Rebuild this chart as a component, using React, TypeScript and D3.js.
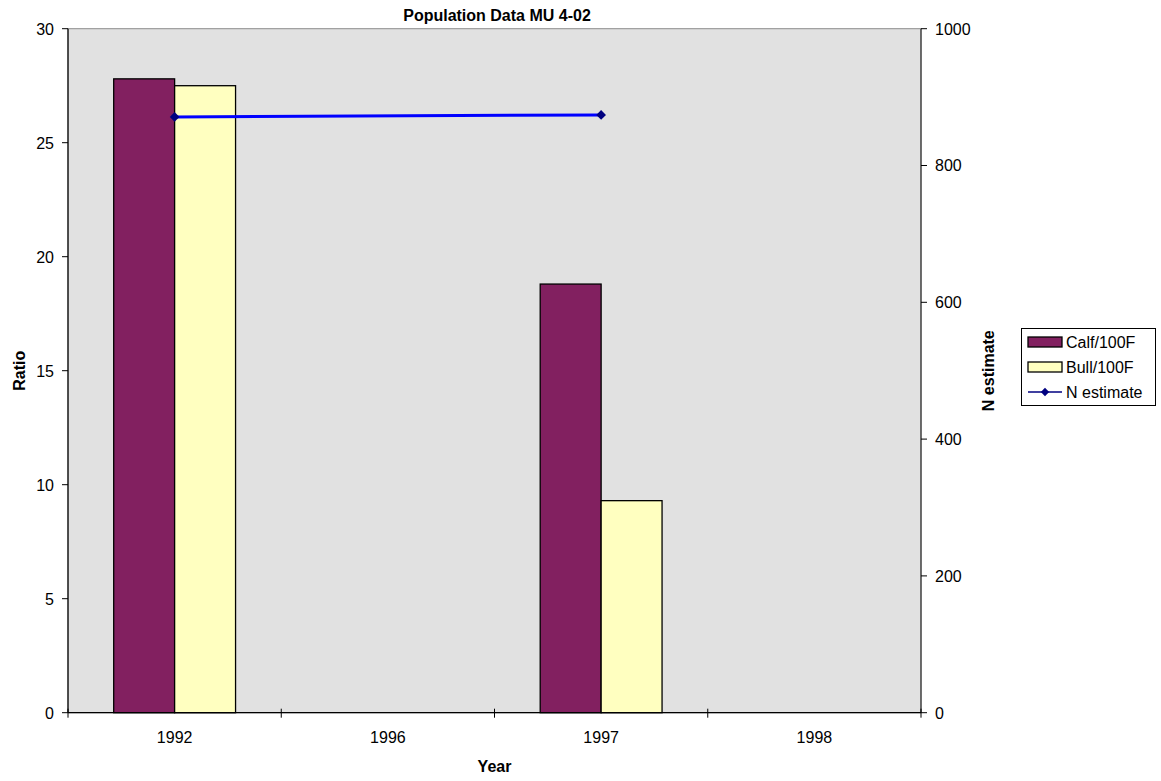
import React, { useEffect, useRef } from "react";
import * as d3 from "d3";

const years = ["1992", "1996", "1997", "1998"];
const calfPer100F: (number | null)[] = [27.8, null, 18.8, null];
const bullPer100F: (number | null)[] = [27.5, null, 9.3, null];
const nEstimate: (number | null)[] = [871, null, 874, null];
const ratioTicks = [0, 5, 10, 15, 20, 25, 30];
const nTicks = [0, 200, 400, 600, 800, 1000];

const W = 1161;
const H = 781;
const M = { left: 68, right: 921, top: 28.7, bottom: 712.7 };
const FONT = "'Liberation Sans', Arial, sans-serif";
const FS = 16;

export default function App() {
  const ref = useRef<SVGSVGElement>(null);

  useEffect(() => {
    const svg = d3.select(ref.current);
    svg.selectAll("*").remove();

    const x = d3.scaleBand<string>().domain(years).range([M.left, M.right]).padding(0);
    const yL = d3.scaleLinear().domain([0, 30]).range([M.bottom, M.top]);
    const yR = d3.scaleLinear().domain([0, 1000]).range([M.bottom, M.top]);

    // plot area
    svg.append("rect")
      .attr("x", M.left).attr("y", M.top)
      .attr("width", M.right - M.left).attr("height", M.bottom - M.top)
      .attr("fill", "#e1e1e1").attr("stroke", "#8c8c8c").attr("stroke-width", 1);

    // bars: two bars plus a 150% gap fill each category
    const bw = x.bandwidth() / 3.5;
    const series = [
      { vals: calfPer100F, color: "#822060", off: 0.75 * bw },
      { vals: bullPer100F, color: "#ffffc0", off: 1.75 * bw },
    ];
    series.forEach((s) => {
      svg.append("g").selectAll("rect")
        .data(years.map((yr, i) => ({ yr, v: s.vals[i] })).filter((d) => d.v != null))
        .join("rect")
        .attr("x", (d) => (x(d.yr) as number) + s.off)
        .attr("y", (d) => yL(d.v as number))
        .attr("width", bw)
        .attr("height", (d) => M.bottom - yL(d.v as number))
        .attr("fill", s.color)
        .attr("stroke", "#000").attr("stroke-width", 1.3);
    });

    // axes
    svg.append("line").attr("x1", M.left).attr("x2", M.left).attr("y1", M.top).attr("y2", M.bottom)
      .attr("stroke", "#000").attr("stroke-width", 1.2);
    svg.append("line").attr("x1", M.right).attr("x2", M.right).attr("y1", M.top).attr("y2", M.bottom)
      .attr("stroke", "#333").attr("stroke-width", 1.2);
    svg.append("line").attr("x1", M.left).attr("x2", M.right).attr("y1", M.bottom).attr("y2", M.bottom)
      .attr("stroke", "#000").attr("stroke-width", 1.2);

    ratioTicks.forEach((t) => {
      const y = yL(t);
      svg.append("line").attr("x1", M.left - 6).attr("x2", M.left).attr("y1", y).attr("y2", y)
        .attr("stroke", "#000");
      svg.append("text").attr("x", M.left - 14).attr("y", y + 5.8).attr("text-anchor", "end")
        .attr("font-family", FONT).attr("font-size", FS).text(String(t));
    });
    nTicks.forEach((t) => {
      const y = yR(t);
      svg.append("line").attr("x1", M.right).attr("x2", M.right + 6).attr("y1", y).attr("y2", y)
        .attr("stroke", "#000");
      svg.append("text").attr("x", M.right + 14).attr("y", y + 5.8).attr("text-anchor", "start")
        .attr("font-family", FONT).attr("font-size", FS).text(String(t));
    });
    const bounds = years.map((yr) => x(yr) as number).concat([M.right]);
    bounds.forEach((bx) => {
      svg.append("line").attr("x1", bx).attr("x2", bx).attr("y1", M.bottom - 4).attr("y2", M.bottom + 5)
        .attr("stroke", "#000");
    });
    years.forEach((yr) => {
      svg.append("text").attr("x", (x(yr) as number) + x.bandwidth() / 2).attr("y", M.bottom + 30.6)
        .attr("text-anchor", "middle").attr("font-family", FONT).attr("font-size", FS).text(yr);
    });

    // N estimate line
    const pts = years.map((yr, i) => ({ yr, v: nEstimate[i] })).filter((d) => d.v != null);
    const line = d3.line<{ yr: string; v: number | null }>()
      .x((d) => (x(d.yr) as number) + x.bandwidth() / 2)
      .y((d) => yR(d.v as number));
    svg.append("path").datum(pts).attr("d", line).attr("fill", "none")
      .attr("stroke", "#0000ff").attr("stroke-width", 3);
    const diamond = d3.symbol().type(d3.symbolDiamond2).size(60);
    svg.append("g").selectAll("path").data(pts).join("path")
      .attr("d", diamond)
      .attr("transform", (d) => `translate(${(x(d.yr) as number) + x.bandwidth() / 2},${yR(d.v as number)})`)
      .attr("fill", "#000080");

    // titles
    const cx = (M.left + M.right) / 2;
    const cy = (M.top + M.bottom) / 2;
    svg.append("text").attr("x", cx + 2.5).attr("y", 21).attr("text-anchor", "middle")
      .attr("font-family", FONT).attr("font-size", FS).attr("font-weight", "bold")
      .text("Population Data MU 4-02");
    svg.append("text").attr("x", cx).attr("y", 772).attr("text-anchor", "middle")
      .attr("font-family", FONT).attr("font-size", FS).attr("font-weight", "bold").text("Year");
    svg.append("text").attr("transform", `translate(24.5,${cy}) rotate(-90)`)
      .attr("text-anchor", "middle").attr("font-family", FONT).attr("font-size", FS)
      .attr("font-weight", "bold").text("Ratio");
    svg.append("text").attr("transform", `translate(994,${cy}) rotate(-90)`)
      .attr("text-anchor", "middle").attr("font-family", FONT).attr("font-size", FS)
      .attr("font-weight", "bold").text("N estimate");

    // legend
    const lg = svg.append("g");
    lg.append("rect").attr("x", 1021.5).attr("y", 328.5).attr("width", 134).attr("height", 77)
      .attr("fill", "#fff").attr("stroke", "#000");
    const items = [
      { label: "Calf/100F", type: "bar", color: "#822060" },
      { label: "Bull/100F", type: "bar", color: "#ffffc0" },
      { label: "N estimate", type: "line", color: "#0000ff" },
    ];
    const legendDiamond = d3.symbol().type(d3.symbolDiamond2).size(44);
    items.forEach((it, i) => {
      const ry = 342 + i * 25;
      if (it.type === "bar") {
        lg.append("rect").attr("x", 1028).attr("y", ry - 5).attr("width", 34).attr("height", 10)
          .attr("fill", it.color).attr("stroke", "#000").attr("stroke-width", 1.3);
      } else {
        lg.append("line").attr("x1", 1028).attr("x2", 1062).attr("y1", ry).attr("y2", ry)
          .attr("stroke", "#000080").attr("stroke-width", 1.5);
        lg.append("path").attr("d", legendDiamond).attr("transform", `translate(1045,${ry})`)
          .attr("fill", "#000080");
      }
      lg.append("text").attr("x", 1066).attr("y", ry + 5.5).attr("font-family", FONT)
        .attr("font-size", FS).text(it.label);
    });
  }, []);

  return (
    <svg ref={ref} width={W} height={H} style={{ display: "block", position: "absolute", left: 0, top: 0 }} />
  );
}
